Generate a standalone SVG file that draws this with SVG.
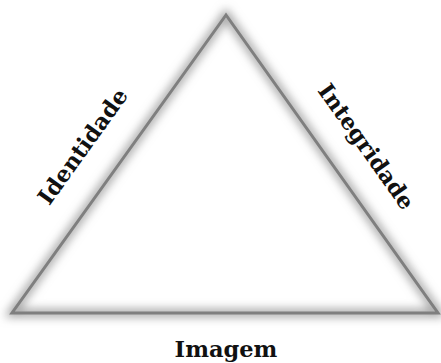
<svg xmlns="http://www.w3.org/2000/svg" width="441" height="363" viewBox="0 0 441 363">
<defs>
<filter id="glow" x="-20%" y="-20%" width="140%" height="140%">
<feGaussianBlur stdDeviation="5"/>
</filter>
<style>
.lbl{font-family:"DejaVu Serif","Liberation Serif",serif;font-weight:bold;font-size:22.5px;fill:#111;}
.edge{fill:none;stroke:#7f7f7f;stroke-width:3;stroke-linejoin:miter;}
</style>
</defs>
<rect width="441" height="363" fill="#fff"/>
<g id="triangle">
<polygon points="226,15 12,313 438,313" fill="#fff"/>
<polygon points="226,15 12,313 438,313" fill="none" stroke="#a0a0a0" stroke-width="8" filter="url(#glow)"/>
<polygon class="edge" points="226,15 12,313 438,313"/>
</g>
<g id="identidade">
<text class="lbl" x="0" y="0" text-anchor="middle" transform="translate(89,151) rotate(-54.3)">Identidade</text>
</g>
<g id="integridade">
<text class="lbl" x="0" y="0" text-anchor="middle" transform="translate(360,151) rotate(54.6)">Integridade</text>
</g>
<g id="imagem">
<text class="lbl" x="226" y="357" text-anchor="middle">Imagem</text>
</g>
<g id="connectors"></g>
</svg>
